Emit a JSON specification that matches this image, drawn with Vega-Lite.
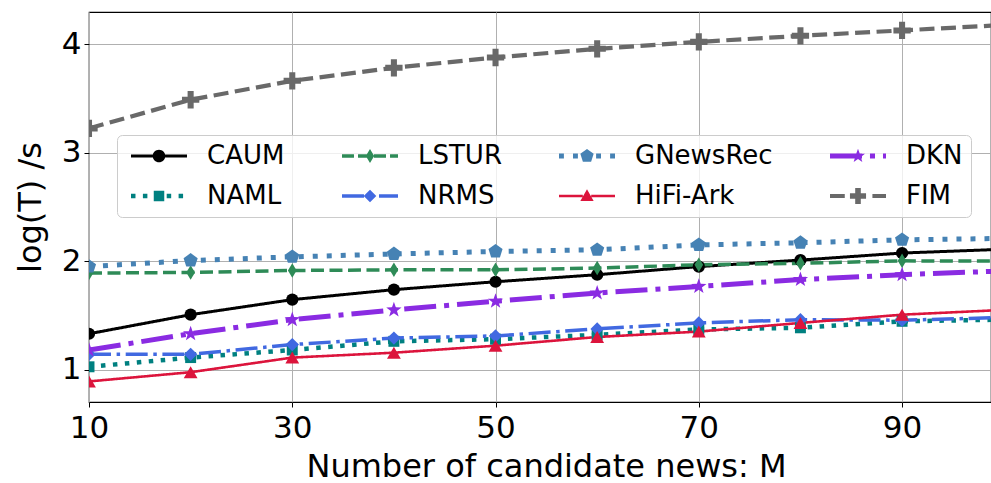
{
  "$schema": "https://vega.github.io/schema/vega-lite/v6.json",
  "width": 902,
  "height": 390,
  "autosize": {"type": "none"},
  "padding": {"left": 89, "top": 12, "right": 0, "bottom": 81},
  "background": "white",
  "config": {
    "view": {"stroke": "#000000", "strokeWidth": 1.2},
    "font": "DejaVu Sans",
    "axis": {
      "labelFont": "DejaVu Sans",
      "labelFontSize": 31,
      "labelColor": "#000000",
      "labelFlush": false,
      "titleFont": "DejaVu Sans",
      "titleFontSize": 32,
      "titleFontWeight": "normal",
      "titleColor": "#000000",
      "tickColor": "#000000",
      "tickSize": 5,
      "tickWidth": 1,
      "domain": false,
      "gridColor": "#b0b0b0",
      "gridWidth": 1,
      "gridOpacity": 1
    }
  },
  "data": {
    "values": [
      {"model": "CAUM", "M": 10, "t": 1.33}, {"model": "CAUM", "M": 20, "t": 1.506}, {"model": "CAUM", "M": 30, "t": 1.645}, {"model": "CAUM", "M": 40, "t": 1.737}, {"model": "CAUM", "M": 50, "t": 1.81}, {"model": "CAUM", "M": 60, "t": 1.875}, {"model": "CAUM", "M": 70, "t": 1.95}, {"model": "CAUM", "M": 80, "t": 2.01}, {"model": "CAUM", "M": 90, "t": 2.075}, {"model": "CAUM", "M": 100, "t": 2.11},
      {"model": "NAML", "M": 10, "t": 1.025}, {"model": "NAML", "M": 20, "t": 1.11}, {"model": "NAML", "M": 30, "t": 1.18}, {"model": "NAML", "M": 40, "t": 1.26}, {"model": "NAML", "M": 50, "t": 1.28}, {"model": "NAML", "M": 60, "t": 1.32}, {"model": "NAML", "M": 70, "t": 1.37}, {"model": "NAML", "M": 80, "t": 1.385}, {"model": "NAML", "M": 90, "t": 1.445}, {"model": "NAML", "M": 100, "t": 1.46},
      {"model": "LSTUR", "M": 10, "t": 1.89}, {"model": "LSTUR", "M": 20, "t": 1.896}, {"model": "LSTUR", "M": 30, "t": 1.914}, {"model": "LSTUR", "M": 40, "t": 1.92}, {"model": "LSTUR", "M": 50, "t": 1.92}, {"model": "LSTUR", "M": 60, "t": 1.936}, {"model": "LSTUR", "M": 70, "t": 1.967}, {"model": "LSTUR", "M": 80, "t": 1.98}, {"model": "LSTUR", "M": 90, "t": 2.003}, {"model": "LSTUR", "M": 100, "t": 2.0},
      {"model": "NRMS", "M": 10, "t": 1.14}, {"model": "NRMS", "M": 20, "t": 1.14}, {"model": "NRMS", "M": 30, "t": 1.23}, {"model": "NRMS", "M": 40, "t": 1.29}, {"model": "NRMS", "M": 50, "t": 1.31}, {"model": "NRMS", "M": 60, "t": 1.375}, {"model": "NRMS", "M": 70, "t": 1.43}, {"model": "NRMS", "M": 80, "t": 1.46}, {"model": "NRMS", "M": 90, "t": 1.455}, {"model": "NRMS", "M": 100, "t": 1.48},
      {"model": "GNewsRec", "M": 10, "t": 1.95}, {"model": "GNewsRec", "M": 20, "t": 2.006}, {"model": "GNewsRec", "M": 30, "t": 2.04}, {"model": "GNewsRec", "M": 40, "t": 2.066}, {"model": "GNewsRec", "M": 50, "t": 2.09}, {"model": "GNewsRec", "M": 60, "t": 2.105}, {"model": "GNewsRec", "M": 70, "t": 2.15}, {"model": "GNewsRec", "M": 80, "t": 2.17}, {"model": "GNewsRec", "M": 90, "t": 2.197}, {"model": "GNewsRec", "M": 100, "t": 2.21},
      {"model": "HiFi-Ark", "M": 10, "t": 0.89}, {"model": "HiFi-Ark", "M": 20, "t": 0.975}, {"model": "HiFi-Ark", "M": 30, "t": 1.11}, {"model": "HiFi-Ark", "M": 40, "t": 1.155}, {"model": "HiFi-Ark", "M": 50, "t": 1.22}, {"model": "HiFi-Ark", "M": 60, "t": 1.30}, {"model": "HiFi-Ark", "M": 70, "t": 1.35}, {"model": "HiFi-Ark", "M": 80, "t": 1.43}, {"model": "HiFi-Ark", "M": 90, "t": 1.506}, {"model": "HiFi-Ark", "M": 100, "t": 1.55},
      {"model": "DKN", "M": 10, "t": 1.18}, {"model": "DKN", "M": 20, "t": 1.33}, {"model": "DKN", "M": 30, "t": 1.46}, {"model": "DKN", "M": 40, "t": 1.55}, {"model": "DKN", "M": 50, "t": 1.63}, {"model": "DKN", "M": 60, "t": 1.706}, {"model": "DKN", "M": 70, "t": 1.767}, {"model": "DKN", "M": 80, "t": 1.83}, {"model": "DKN", "M": 90, "t": 1.875}, {"model": "DKN", "M": 100, "t": 1.91},
      {"model": "FIM", "M": 10, "t": 3.226}, {"model": "FIM", "M": 20, "t": 3.49}, {"model": "FIM", "M": 30, "t": 3.665}, {"model": "FIM", "M": 40, "t": 3.785}, {"model": "FIM", "M": 50, "t": 3.88}, {"model": "FIM", "M": 60, "t": 3.96}, {"model": "FIM", "M": 70, "t": 4.024}, {"model": "FIM", "M": 80, "t": 4.08}, {"model": "FIM", "M": 90, "t": 4.13}, {"model": "FIM", "M": 100, "t": 4.18}
    ]
  },
  "encoding": {
    "x": {
      "field": "M", "type": "quantitative",
      "scale": {"domain": [10, 98.75], "nice": false, "zero": false},
      "axis": {"values": [10, 30, 50, 70, 90], "labelPadding": 6, "title": "Number of candidate news: M", "titleX": 457, "titleY": 74, "titleBaseline": "alphabetic"}
    },
    "y": {
      "field": "t", "type": "quantitative",
      "scale": {"domain": [0.7, 4.3], "nice": false, "zero": false},
      "axis": {"values": [1, 2, 3, 4], "labelPadding": 3, "title": "log(T) /s", "titleX": -59, "titleY": 195, "titleBaseline": "middle"}
    },
    "color": {
      "field": "model", "type": "nominal",
      "scale": {
        "domain": ["CAUM", "NAML", "LSTUR", "NRMS", "GNewsRec", "HiFi-Ark", "DKN", "FIM"],
        "range": ["#000000", "#008080", "#2e8b57", "#4169e1", "#4682b4", "#dc143c", "#8a2be2", "#696969"]
      },
      "legend": {
        "orient": "none", "legendX": 28, "legendY": 123, "columns": 4, "direction": "vertical", "title": null,
        "labelFont": "DejaVu Sans", "labelFontSize": 26, "labelColor": "#000000",
        "symbolSize": 196, "symbolOffset": 21, "labelOffset": 35, "symbolStrokeWidth": 0,
        "columnPadding": 51, "rowPadding": 14, "padding": 8,
        "fillColor": "rgba(255,255,255,0.8)", "strokeColor": "#cccccc", "cornerRadius": 5,
        "encode": {
          "symbols": {
            "update": {
              "strokeWidth": {"value": 0},
              "opacity": {"value": 1},
              "size": {"value": 196},
              "shape": {"signal": "datum.value === 'CAUM' ? 'M-4,-0.21L-0.7,-0.21L-0.7,0.21L-4,0.21Z M0.7,-0.21L4,-0.21L4,0.21L0.7,0.21Z M-0.9,0A0.9,0.9 0 1,1 0.9,0A0.9,0.9 0 1,1 -0.9,0Z' : datum.value === 'NAML' ? 'M-4,-0.32L-3.36,-0.32L-3.36,0.32L-4,0.32Z M-2.3,-0.32L-1.66,-0.32L-1.66,0.32L-2.3,0.32Z M1.1,-0.32L1.74,-0.32L1.74,0.32L1.1,0.32Z M2.8,-0.32L3.44,-0.32L3.44,0.32L2.8,0.32Z M-0.75,-0.75L0.75,-0.75L0.75,0.75L-0.75,0.75Z' : datum.value === 'LSTUR' ? 'M-4,-0.25L-2.29,-0.25L-2.29,0.25L-4,0.25Z M-1.71,-0.25L0,-0.25L0,0.25L-1.71,0.25Z M0.57,-0.25L2.29,-0.25L2.29,0.25L0.57,0.25Z M2.86,-0.25L4,-0.25L4,0.25L2.86,0.25Z M0,-1L0.6,0L0,1L-0.6,0Z' : datum.value === 'NRMS' ? 'M-4,-0.25L-0.86,-0.25L-0.86,0.25L-4,0.25Z M1.29,-0.25L4,-0.25L4,0.25L1.29,0.25Z M0,-0.9L0.9,0L0,0.9L-0.9,0Z' : datum.value === 'GNewsRec' ? 'M-4,-0.35L-3.3,-0.35L-3.3,0.35L-4,0.35Z M-2.0,-0.35L-1.3,-0.35L-1.3,0.35L-2.0,0.35Z M1.3,-0.35L2.0,-0.35L2.0,0.35L1.3,0.35Z M3.3,-0.35L4,-0.35L4,0.35L3.3,0.35Z M0,-1L0.951,-0.309L0.588,0.809L-0.588,0.809L-0.951,-0.309Z' : datum.value === 'HiFi-Ark' ? 'M-4,-0.18L-0.6,-0.18L-0.6,0.18L-4,0.18Z M0.6,-0.18L4,-0.18L4,0.18L0.6,0.18Z M0,-0.95L0.95,0.7L-0.95,0.7Z' : datum.value === 'DKN' ? 'M-4,-0.36L0.57,-0.36L0.57,0.36L-4,0.36Z M1.71,-0.36L2.43,-0.36L2.43,0.36L1.71,0.36Z M3.57,-0.36L4,-0.36L4,0.36L3.57,0.36Z M0,-1.05L0.247,-0.34L0.999,-0.324L0.4,0.13L0.617,0.849L0,0.42L-0.617,0.849L-0.4,0.13L-0.999,-0.324L-0.247,-0.34Z' : 'M-4,-0.29L-1.89,-0.29L-1.89,0.29L-4,0.29Z M-0.97,-0.29L1.14,-0.29L1.14,0.29L-0.97,0.29Z M2.06,-0.29L4,-0.29L4,0.29L2.06,0.29Z M-0.4,-1.15L0.4,-1.15L0.4,-0.4L1.15,-0.4L1.15,0.4L0.4,0.4L0.4,1.15L-0.4,1.15L-0.4,0.4L-1.15,0.4L-1.15,-0.4L-0.4,-0.4Z'"}
            }
          }
        }
      }
    }
  },
  "layer": [
    {
      "mark": {"type": "line", "clip": true},
      "encoding": {
        "strokeDash": {
          "field": "model", "type": "nominal", "legend": null,
          "scale": {
            "domain": ["FIM", "DKN", "HiFi-Ark", "GNewsRec", "NRMS", "LSTUR", "NAML", "CAUM"],
            "range": [[15, 6.5], [32, 8, 5, 8], [1, 0], [5, 9], [22, 5.6, 3.5, 5.6], [13, 5.5], [4.5, 7.5], [1, 0]]
          }
        },
        "strokeWidth": {
          "field": "model", "type": "ordinal", "legend": null,
          "scale": {
            "type": "ordinal",
            "domain": ["NAML", "CAUM", "NRMS", "LSTUR", "HiFi-Ark", "GNewsRec", "FIM", "DKN"],
            "range": [4.5, 3, 3.5, 3.5, 2.6, 5, 4.2, 5]
          }
        }
      }
    },
    {
      "mark": {"type": "point", "filled": true, "opacity": 1, "clip": true},
      "encoding": {
        "shape": {
          "field": "model", "type": "nominal", "legend": null,
          "scale": {
            "domain": ["LSTUR", "CAUM", "NAML", "NRMS", "GNewsRec", "HiFi-Ark", "DKN", "FIM"],
            "range": ["M0,-1L0.6,0L0,1L-0.6,0Z", "circle", "square", "diamond", "M0,-1L0.951,-0.309L0.588,0.809L-0.588,0.809L-0.951,-0.309Z", "triangle-up", "M0,-1L0.235,-0.324L0.951,-0.309L0.38,0.124L0.588,0.809L0,0.4L-0.588,0.809L-0.38,0.124L-0.951,-0.309L-0.235,-0.324Z", "M-0.35,-1L0.35,-1L0.35,-0.35L1,-0.35L1,0.35L0.35,0.35L0.35,1L-0.35,1L-0.35,0.35L-1,0.35L-1,-0.35L-0.35,-0.35Z"]
          }
        },
        "size": {
          "field": "model", "type": "ordinal", "legend": null,
          "scale": {
            "type": "ordinal",
            "domain": ["CAUM", "LSTUR", "NAML", "NRMS", "GNewsRec", "HiFi-Ark", "FIM", "DKN"],
            "range": [150, 210, 120, 180, 220, 190, 300, 260]
          }
        }
      }
    }
  ]
}
